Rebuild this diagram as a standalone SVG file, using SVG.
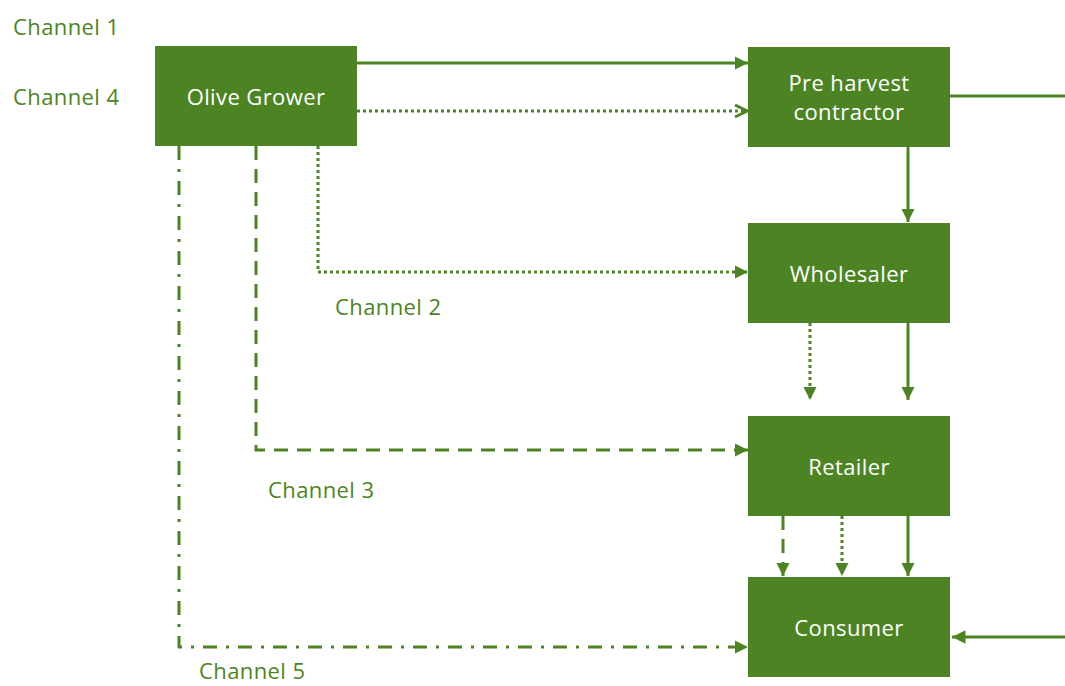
<svg xmlns="http://www.w3.org/2000/svg" width="1065" height="686" viewBox="0 0 1065 686">
  <style>
    .box { fill: #4D8423; }
    .node-label { font-family: "Open Sans", "Noto Sans", sans-serif; font-size: 22px; letter-spacing: 0.4px; fill: #FFFFFF; text-anchor: middle; dominant-baseline: central; }
    .channel { font-family: "Open Sans", "Noto Sans", sans-serif; font-size: 22px; letter-spacing: 0.4px; fill: #4D8423; dominant-baseline: central; }
    .link { fill: none; stroke: #4D8423; stroke-width: 3; }
    .solid { marker-end: url(#tri); }
    .dotted { stroke-dasharray: 3 3; marker-end: url(#tri); }
    .dashed { stroke-dasharray: 14 9; marker-end: url(#tri); }
    .dashdot { stroke-dasharray: 14 9 3 9; marker-end: url(#tri); }
  </style>
  <defs>
    <marker id="tri" viewBox="0 0 10 10" refX="10" refY="5" markerWidth="4.5" markerHeight="4.5" markerUnits="strokeWidth" orient="auto">
      <path d="M0,0 L10,5 L0,10 Z" fill="#4D8423"/>
    </marker>
    <marker id="chevron" viewBox="0 0 10 10" refX="9" refY="5" markerWidth="5" markerHeight="5" markerUnits="strokeWidth" orient="auto">
      <path d="M1,1 L9,5 L1,9" fill="none" stroke="#4D8423" stroke-width="2"/>
    </marker>
  </defs>

  <!-- connectors -->
  <g id="connectors">
    <!-- Channel 1: grower to contractor -->
    <line class="link solid" x1="357" y1="63" x2="748" y2="63"/>
    <!-- Channel 4: grower to contractor, dotted -->
    <line class="link" x1="357" y1="111" x2="747" y2="111" stroke-dasharray="3 3" marker-end="url(#chevron)"/>
    <!-- contractor outgoing to the right -->
    <line class="link" x1="950" y1="96" x2="1065" y2="96"/>
    <!-- contractor to wholesaler -->
    <line class="link solid" x1="908" y1="147" x2="908" y2="222"/>
    <!-- Channel 2: grower to wholesaler -->
    <polyline class="link dotted" points="318,146 318,272 748,272"/>
    <!-- Channel 3: grower to retailer -->
    <polyline class="link dashed" points="256,146 256,450 748,450"/>
    <!-- Channel 5: grower to consumer -->
    <polyline class="link dashdot" points="179,146 179,647 748,647"/>
    <!-- wholesaler to retailer -->
    <line class="link dotted" x1="810" y1="323" x2="810" y2="400"/>
    <line class="link solid" x1="908" y1="323" x2="908" y2="400"/>
    <!-- retailer to consumer -->
    <line class="link dashed" x1="783" y1="516" x2="783" y2="576"/>
    <line class="link dotted" x1="842" y1="516" x2="842" y2="576"/>
    <line class="link solid" x1="908" y1="516" x2="908" y2="576"/>
    <!-- incoming from the right to consumer -->
    <line class="link solid" x1="1065" y1="637" x2="952" y2="637"/>
  </g>

  <g id="olive-grower">
    <rect class="box" x="155" y="46" width="202" height="100"/>
    <text class="node-label" x="256" y="96">Olive Grower</text>
  </g>
  <g id="pre-harvest-contractor">
    <rect class="box" x="748" y="47" width="202" height="100"/>
    <text class="node-label" x="849" y="82">Pre harvest</text>
    <text class="node-label" x="849" y="111">contractor</text>
  </g>
  <g id="wholesaler">
    <rect class="box" x="748" y="223" width="202" height="100"/>
    <text class="node-label" x="849" y="273">Wholesaler</text>
  </g>
  <g id="retailer">
    <rect class="box" x="748" y="416" width="202" height="100"/>
    <text class="node-label" x="849" y="466">Retailer</text>
  </g>
  <g id="consumer">
    <rect class="box" x="748" y="577" width="202" height="100"/>
    <text class="node-label" x="849" y="627">Consumer</text>
  </g>

  <g id="channel-labels">
    <text class="channel" x="13" y="26">Channel 1</text>
    <text class="channel" x="13" y="96">Channel 4</text>
    <text class="channel" x="335" y="306">Channel 2</text>
    <text class="channel" x="268" y="489">Channel 3</text>
    <text class="channel" x="199" y="670">Channel 5</text>
  </g>
</svg>
